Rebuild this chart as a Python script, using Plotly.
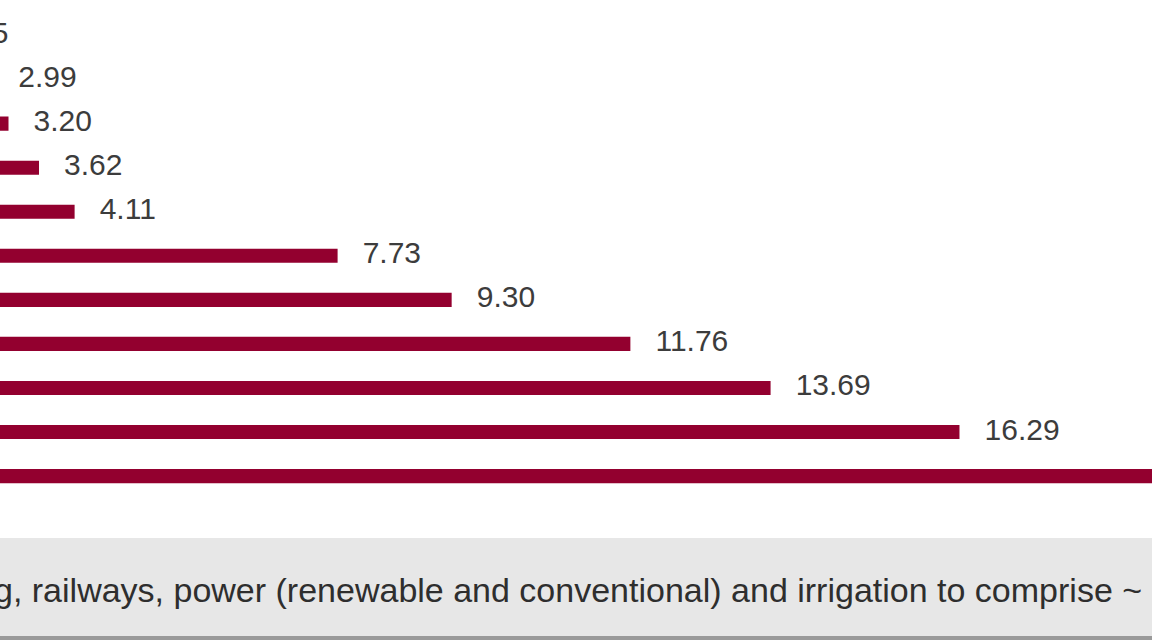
import plotly.graph_objects as go

# Data (top to bottom)
categories = ["Category 1", "Category 2", "Category 3", "Category 4", "Category 5",
              "Category 6", "Category 7", "Category 8", "Category 9", "Category 10",
              "Category 11"]
values = [2.05, 2.99, 3.20, 3.62, 4.11, 7.73, 9.30, 11.76, 13.69, 16.29, 21.50]
labels = [f"{v:.2f}" for v in values]
footer_text = "g, railways, power (renewable and conventional) and irrigation to comprise ~"

BAR_COLOR = "#93002f"
LABEL_COLOR = "#3c3c3c"

x_range = [3.083, 18.94]
label_shift = 0.345  # label axis shift (data units) so labels sit right of bar ends

fig = go.Figure()
fig.add_trace(go.Bar(
    y=categories, x=values, orientation="h",
    marker=dict(color=BAR_COLOR, line=dict(width=0)),
    width=0.32, showlegend=False, hoverinfo="skip",
))
fig.add_trace(go.Scatter(
    y=categories, x=values, mode="text", text=labels,
    textposition="middle right",
    textfont=dict(family="Liberation Sans, Arial, sans-serif", size=30, color=LABEL_COLOR),
    xaxis="x2", showlegend=False, hoverinfo="skip", cliponaxis=True,
))

fig.update_layout(
    width=1152, height=640,
    margin=dict(l=0, r=0, t=0, b=0),
    paper_bgcolor="white", plot_bgcolor="white",
    xaxis=dict(range=x_range, visible=False, fixedrange=True),
    xaxis2=dict(range=[x_range[0] - label_shift, x_range[1] - label_shift],
                overlaying="x", visible=False, fixedrange=True),
    yaxis=dict(categoryorder="array", categoryarray=categories,
               range=[13.72, -0.806], visible=False, fixedrange=True),
    shapes=[
        dict(type="rect", xref="paper", yref="paper", x0=0, x1=1,
             y0=1 - 636 / 640, y1=1 - 538 / 640, fillcolor="#e7e7e7",
             line=dict(width=0), layer="above"),
        dict(type="rect", xref="paper", yref="paper", x0=0, x1=1,
             y0=0, y1=1 - 636 / 640, fillcolor="#9a9a9a",
             line=dict(width=0), layer="above"),
    ],
    annotations=[
        dict(xref="paper", yref="paper", x=-0.007, y=1 - 590 / 640,
             xanchor="left", yanchor="middle", showarrow=False,
             text=footer_text,
             font=dict(family="Liberation Sans, Arial, sans-serif", size=34, color="#2e2e2e")),
    ],
)

fig.write_html(
    "out.html",
    config={"displayModeBar": False},
    post_script="document.body.style.margin='0';document.body.style.overflow='hidden';",
)
